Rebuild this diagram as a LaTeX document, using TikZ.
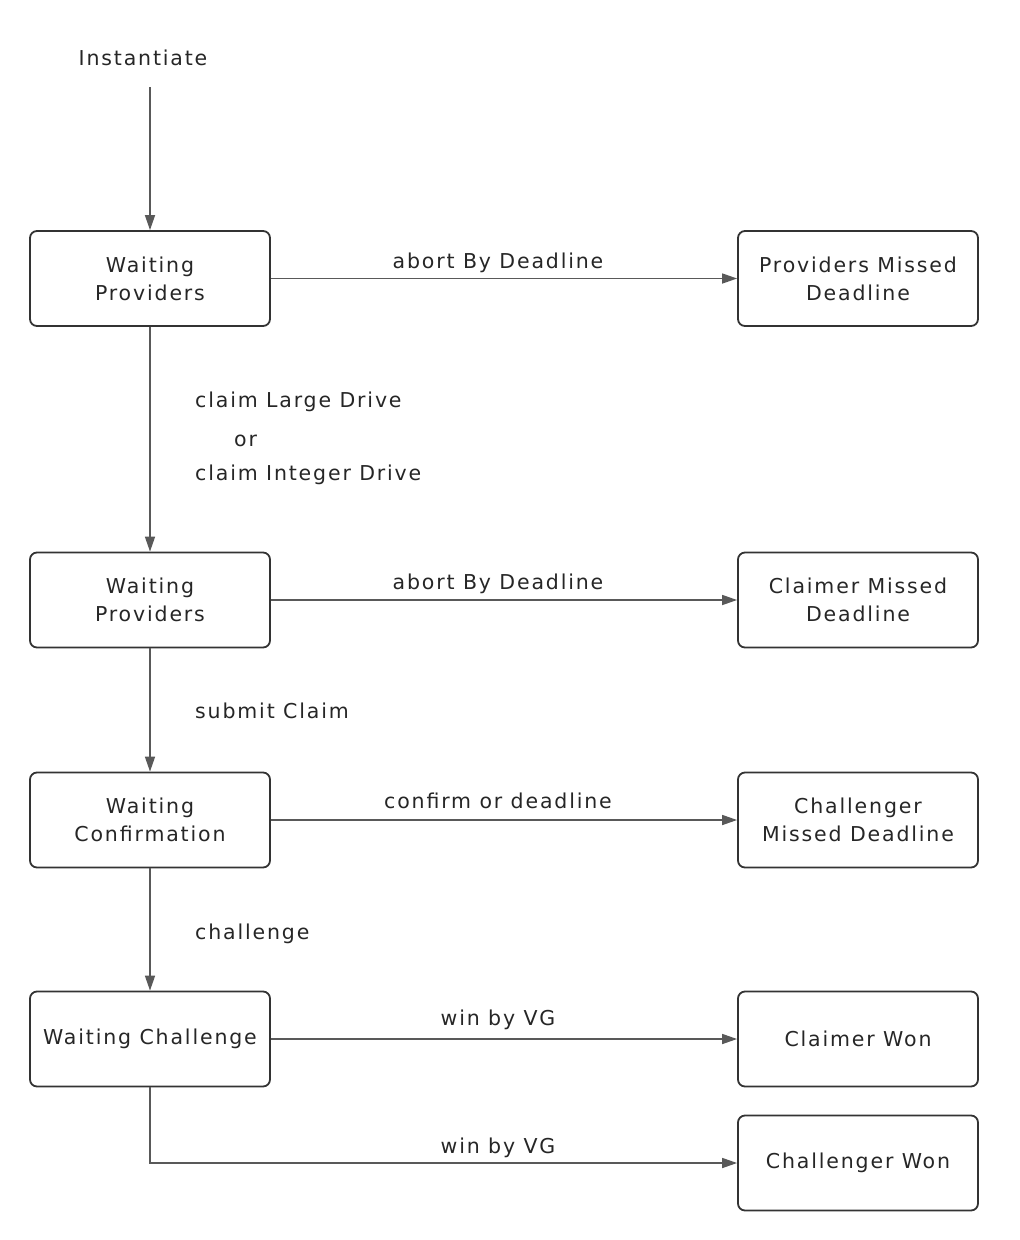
\documentclass[tikz,border=0pt]{standalone}
\usepackage{fontspec}
\setmainfont{DejaVu Sans}[LetterSpace=9]
\usetikzlibrary{arrows.meta}
\begin{document}
\begin{tikzpicture}[x=1pt,y=-1pt,
  state/.style={draw=black!80, line width=1.8pt, rounded corners=7pt, minimum width=240pt, minimum height=95pt, align=center, font=\fontsize{20.5}{28}\selectfont, text=black!85},
  conn/.style={draw=black!65, line width=1.6pt, -{Triangle[length=15pt,width=10pt]}},
  lbl/.style={font=\fontsize{20.5}{28}\selectfont, text=black!85, inner sep=0pt}]
\useasboundingbox (0,0) rectangle (1020,1240);
\node[lbl] (inst) at (143,58) {Instantiate};
\coordinate (instb) at (150,87);
\node[state] (wp1) at (150,278.5) {Waiting\\Providers};
\node[state] (pmd) at (858,278.5) {Providers Missed\\Deadline};
\node[state] (wp2) at (150,600) {Waiting\\Providers};
\node[state] (cmd) at (858,600) {Claimer Missed\\Deadline};
\node[state] (wc) at (150,820) {Waiting\\Confirmation};
\node[state] (chmd) at (858,820) {Challenger\\Missed Deadline};
\node[state] (wch) at (150,1039) {Waiting Challenge};
\node[state] (cw) at (858,1039) {Claimer Won};
\node[state] (chw) at (858,1163) {Challenger Won};
\coordinate (corner) at (150,1163);

\draw[conn] (instb) -- (wp1);
\draw[conn] (wp1) -- (pmd);
\draw[conn] (wp1) -- (wp2);
\draw[conn] (wp2) -- (cmd);
\draw[conn] (wp2) -- (wc);
\draw[conn] (wc) -- (chmd);
\draw[conn] (wc) -- (wch);
\draw[conn] (wch) -- (cw);
\draw[conn] (wch.south) -- (corner) -- (chw.west);

\node[lbl] (l1) at (498,263) {abort By Deadline};
\node[lbl,anchor=west] (l2) at (195,402) {claim Large Drive};
\node[lbl,anchor=west] (l3) at (234,441) {or};
\node[lbl,anchor=west] (l4) at (195,475) {claim Integer Drive};
\node[lbl] (l5) at (498,584) {abort By Deadline};
\node[lbl,anchor=west] (l6) at (195,711) {submit Claim};
\node[lbl] (l7) at (498,801) {confirm or deadline};
\node[lbl,anchor=west] (l8) at (195,934) {challenge};
\node[lbl] (l9) at (498,1020) {win by VG};
\node[lbl] (l10) at (498,1148) {win by VG};
\end{tikzpicture}
\end{document}
